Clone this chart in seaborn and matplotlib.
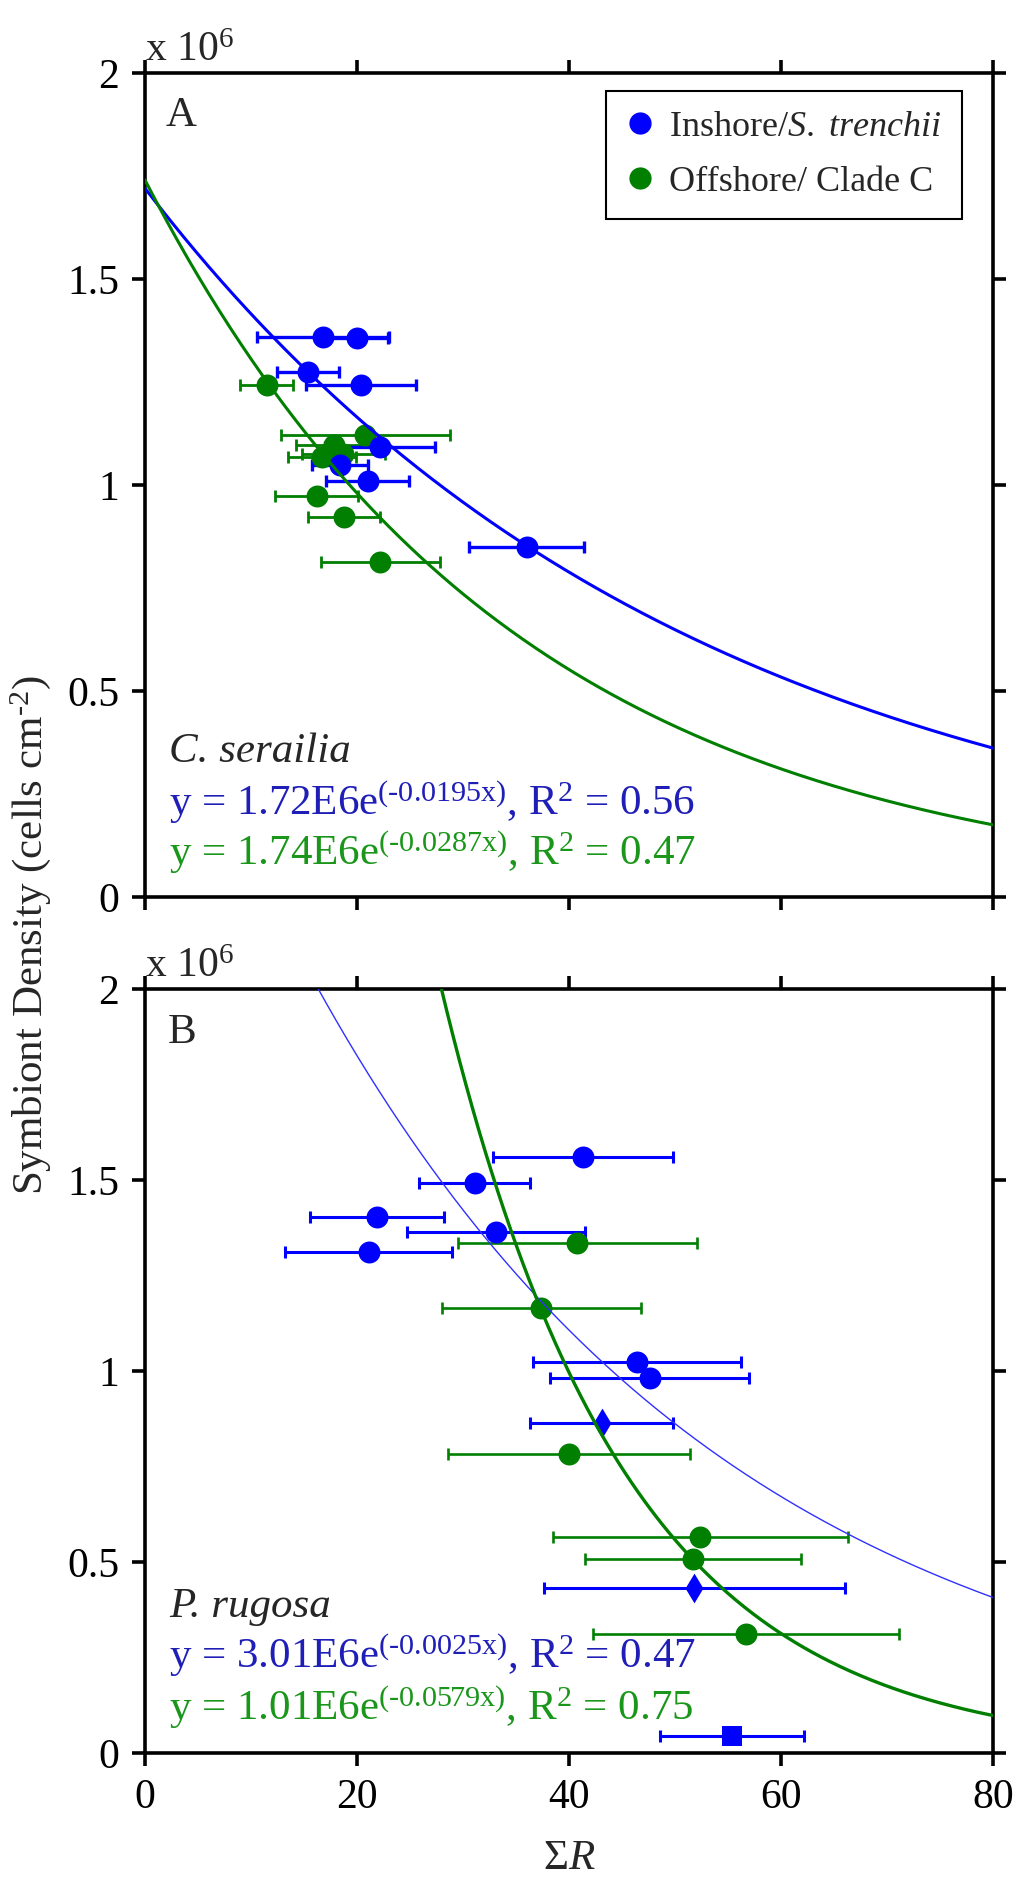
import numpy as np
import pandas as pd
import matplotlib
matplotlib.use('Agg')
import matplotlib.pyplot as plt
import seaborn as sns
from matplotlib.lines import Line2D

blue = '#0000FF'
green = '#007F00'
blue_text = '#1F1FB8'
green_text = '#1A961A'

# Panel A - C. serailia (density in 10^6 cells cm-2)
a_in_x = [16.8, 20.0, 15.4, 20.4, 22.2, 18.4, 21.0, 36.0]
a_in_y = [1.358, 1.356, 1.273, 1.243, 1.093, 1.049, 1.010, 0.849]
a_in_err = [6.2, 2.9, 2.9, 5.2, 5.2, 2.6, 3.9, 5.4]
a_off_x = [11.5, 20.8, 17.8, 16.7, 18.7, 16.2, 18.8, 22.2]
a_off_y = [1.243, 1.121, 1.097, 1.069, 1.075, 0.972, 0.923, 0.812]
a_off_err = [2.5, 8.0, 3.6, 3.2, 3.9, 3.9, 3.4, 5.6]

# Panel B - P. rugosa
b_in_x = [41.3, 31.1, 21.9, 33.1, 21.1, 46.4, 47.6, 43.1, 51.8, 55.4]
b_in_y = [1.561, 1.493, 1.404, 1.365, 1.312, 1.023, 0.983, 0.865, 0.431, 0.045]
b_in_err = [8.5, 5.25, 6.3, 8.4, 7.85, 9.8, 9.35, 6.75, 14.2, 6.8]
b_in_shape = ['circle'] * 7 + ['diamond', 'diamond', 'square']
b_off_x = [40.8, 37.4, 40.0, 52.4, 51.7, 56.7]
b_off_y = [1.334, 1.164, 0.783, 0.566, 0.507, 0.312]
b_off_err = [11.3, 9.4, 11.45, 13.95, 10.15, 14.4]

# exponential fits (a in 10^6, k)
fit_a_in = (1.72, 0.0195)
fit_a_off = (1.74, 0.0287)
fit_b_in = (3.01, 0.025)
fit_b_off = (10.1, 0.0579)

yticks = [0, 0.5, 1, 1.5, 2]
ytick_labels = ['0', '0.5', '1', '1.5', '2']
xticks = [0, 20, 40, 60, 80]

sns.set_style('ticks')
plt.rcParams['font.family'] = ['Liberation Serif', 'DejaVu Serif']
plt.rcParams['mathtext.fontset'] = 'custom'
plt.rcParams['mathtext.rm'] = 'Liberation Serif'
plt.rcParams['mathtext.it'] = 'Liberation Serif:italic'
plt.rcParams['mathtext.bf'] = 'Liberation Serif:bold'

fig = plt.figure(figsize=(10.24, 18.94), dpi=100)
axA = fig.add_axes([0.1416, 0.5264, 0.8281, 0.4351])
axB = fig.add_axes([0.1416, 0.0744, 0.8281, 0.4034])

xs = np.linspace(0, 80, 400)
marker_map = {'circle': 'o', 'diamond': 'd', 'square': 's'}
size_map = {'circle': 250, 'diamond': 230, 'square': 190}


def draw_group(ax, x, y, err, color, shapes, elw):
    ax.errorbar(x, y, xerr=err, fmt='none', ecolor=color, elinewidth=elw,
                capsize=4.5, capthick=elw, zorder=2)
    df = pd.DataFrame({'x': x, 'y': y, 'shape': shapes})
    for shape, sub in df.groupby('shape'):
        sns.scatterplot(data=sub, x='x', y='y', marker=marker_map[shape],
                        color=color, s=size_map[shape], linewidth=0,
                        legend=False, ax=ax, zorder=3)


def draw_fit(ax, fit, color, lw):
    a, k = fit
    sns.lineplot(x=xs, y=a * np.exp(-k * xs), color=color, lw=lw, ax=ax, zorder=4)


draw_group(axA, a_off_x, a_off_y, a_off_err, green, ['circle'] * len(a_off_x), 2.0)
draw_group(axA, a_in_x, a_in_y, a_in_err, blue, ['circle'] * len(a_in_x), 2.4)
draw_fit(axA, fit_a_in, blue, 2.2)
draw_fit(axA, fit_a_off, green, 2.2)

draw_group(axB, b_off_x, b_off_y, b_off_err, green, ['circle'] * len(b_off_x), 1.9)
draw_group(axB, b_in_x, b_in_y, b_in_err, blue, b_in_shape, 2.2)
draw_fit(axB, fit_b_in, '#3030FF', 1.0)
draw_fit(axB, fit_b_off, green, 2.4)

for ax in (axA, axB):
    ax.set_xlim(0, 80)
    ax.set_ylim(0, 2)
    ax.set_xticks(xticks)
    ax.set_yticks(yticks)
    ax.set_yticklabels(ytick_labels)
    ax.set_xlabel('')
    ax.set_ylabel('')
    for sp in ax.spines.values():
        sp.set_visible(True)
        sp.set_linewidth(2.6)
        sp.set_color('black')
    ax.tick_params(direction='out', length=9.5, width=2.6, labelsize=30, pad=9,
                   top=True, right=True, colors='black')
    ax.text(0.0, 1.004, 'x 10$^{6}$', transform=ax.transAxes, fontsize=30,
            ha='left', va='bottom')

axA.tick_params(labelbottom=False)
axB.set_xlabel('Σ$R$', fontsize=31, labelpad=16)

axA.text(0.024, 0.935, 'A', transform=axA.transAxes, fontsize=31, va='baseline')
axB.text(0.027, 0.929, 'B', transform=axB.transAxes, fontsize=31, va='baseline')

hy = '\u2010'
eq_a_in = r'y = 1.72E6e$^{\mathrm{(' + hy + r'0.0195x)}}$, R$^{\mathrm{2}}$ = 0.56'
eq_a_off = r'y = 1.74E6e$^{\mathrm{(' + hy + r'0.0287x)}}$, R$^{\mathrm{2}}$ = 0.47'
eq_b_in = r'y = 3.01E6e$^{\mathrm{(' + hy + r'0.0025x)}}$, R$^{\mathrm{2}}$ = 0.47'
eq_b_off = r'y = 1.01E6e$^{\mathrm{(' + hy + r'0.0579x)}}$, R$^{\mathrm{2}}$ = 0.75'

axA.text(0.028, 0.164, 'C. serailia', style='italic', transform=axA.transAxes,
         fontsize=31, va='baseline')
axA.text(0.028, 0.100, eq_a_in, color=blue_text, transform=axA.transAxes,
         fontsize=31, va='baseline')
axA.text(0.028, 0.039, eq_a_off, color=green_text, transform=axA.transAxes,
         fontsize=31, va='baseline')

axB.text(0.028, 0.178, 'P. rugosa', style='italic', transform=axB.transAxes,
         fontsize=31, va='baseline')
axB.text(0.028, 0.111, eq_b_in, color=blue_text, transform=axB.transAxes,
         fontsize=31, va='baseline')
axB.text(0.028, 0.043, eq_b_off, color=green_text, transform=axB.transAxes,
         fontsize=31, va='baseline')

handles = [Line2D([], [], marker='o', ls='', color=blue, markersize=15),
           Line2D([], [], marker='o', ls='', color=green, markersize=15)]
labels = [r'Inshore/$\mathit{S.\ trenchii}$', 'Offshore/ Clade C']
leg = axA.legend(handles, labels, loc='upper right', bbox_to_anchor=(0.963, 0.9785),
                 borderaxespad=0, fontsize=26, frameon=True, fancybox=False,
                 edgecolor='black', framealpha=1, handlelength=0.8,
                 handletextpad=0.4, labelspacing=0.6, borderpad=0.55)
leg.get_frame().set_linewidth(1.5)

fig.text(0.030, 0.506, 'Symbiont Density (cells cm$^{\u2010 2}$)', rotation=90,
         fontsize=31, ha='center', va='center')

fig.savefig('out.png', dpi=100)
